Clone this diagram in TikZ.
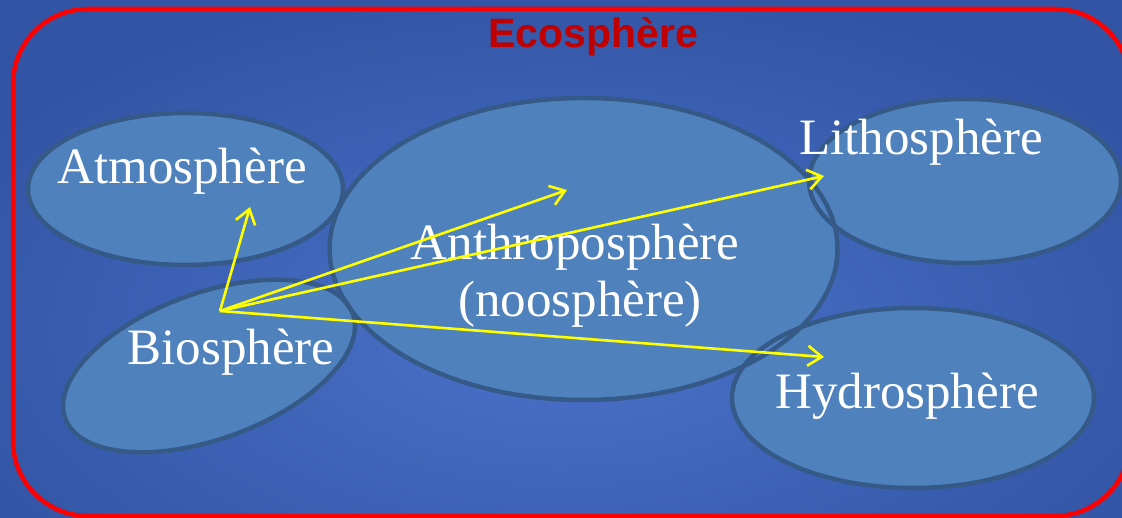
\documentclass[tikz,border=0pt]{standalone}
\usepackage{fontspec}
\setmainfont{Liberation Serif}
\newfontfamily\titlefont{Liberation Sans}
\usetikzlibrary{arrows.meta}
\definecolor{bgin}{RGB}{74,115,202}
\definecolor{bgout}{RGB}{50,84,164}
\definecolor{ellfill}{RGB}{79,129,189}
\definecolor{elldraw}{RGB}{54,90,136}
\definecolor{ecored}{RGB}{255,0,0}
\definecolor{titlered}{RGB}{192,0,0}
\definecolor{arrowyellow}{RGB}{255,255,0}
\tikzset{
  sphere/.style={fill=ellfill},
  sphereborder/.style={draw=elldraw, line width=4.5pt},
  lbl/.style={text=white, font=\fontsize{51}{56}\selectfont, anchor=base, inner sep=0pt},
  link/.style={draw=arrowyellow, line width=2.6pt, -{Straight Barb[length=14pt,width=20pt,line width=2.6pt]}}
}
\begin{document}
\begin{tikzpicture}[x=1pt,y=-1pt]
\useasboundingbox (0,0) rectangle (1122,518);
\shade[inner color=bgin, outer color=bgout] (-120,-20) rectangle (1242,680);
\draw[draw=ecored, line width=4.5pt, rounded corners=75pt] (13,9) rectangle (1130,516);
\node[font=\titlefont\bfseries\fontsize{41}{46}\selectfont, text=titlered, anchor=base, inner sep=0pt] (title) at (593,48) {Ecosphère};
% ellipse fills
\fill[sphere] (185.5,189) ellipse [x radius=157.5, y radius=76];
\fill[sphere] (209,366) ellipse [x radius=153, y radius=73, rotate=20];
\fill[sphere] (583.5,249) ellipse [x radius=254, y radius=151];
\fill[sphere] (965,181) ellipse [x radius=156, y radius=82];
\fill[sphere] (913,398) ellipse [x radius=181, y radius=90];
% ellipse borders
\draw[sphereborder] (185.5,189) ellipse [x radius=157.5, y radius=76];
\draw[sphereborder] (209,366) ellipse [x radius=153, y radius=73, rotate=20];
\draw[sphereborder] (583.5,249) ellipse [x radius=254, y radius=151];
\draw[sphereborder] (965,181) ellipse [x radius=156, y radius=82];
\draw[sphereborder] (913,398) ellipse [x radius=181, y radius=90];
% labels
\node[lbl] (atmo) at (182,184) {Atmosphère};
\node[lbl] (bio) at (231,365) {Biosphère};
\node[lbl] (anthro) at (575,260) {Anthroposphère};
\node[lbl] (noo) at (580,317) {(noosphère)};
\node[lbl] (litho) at (921,155) {Lithosphère};
\node[lbl] (hydro) at (907,409) {Hydrosphère};
% arrows
\coordinate (src) at (220,311);
\coordinate (eatmo) at (250,207);
\coordinate (eanthro) at (567,190);
\coordinate (elitho) at (824,176);
\coordinate (ehydro) at (824,357);
\draw[link] (src) -- (eatmo);
\draw[link] (src) -- (eanthro);
\draw[link] (src) -- (elitho);
\draw[link] (src) -- (ehydro);
\end{tikzpicture}
\end{document}
